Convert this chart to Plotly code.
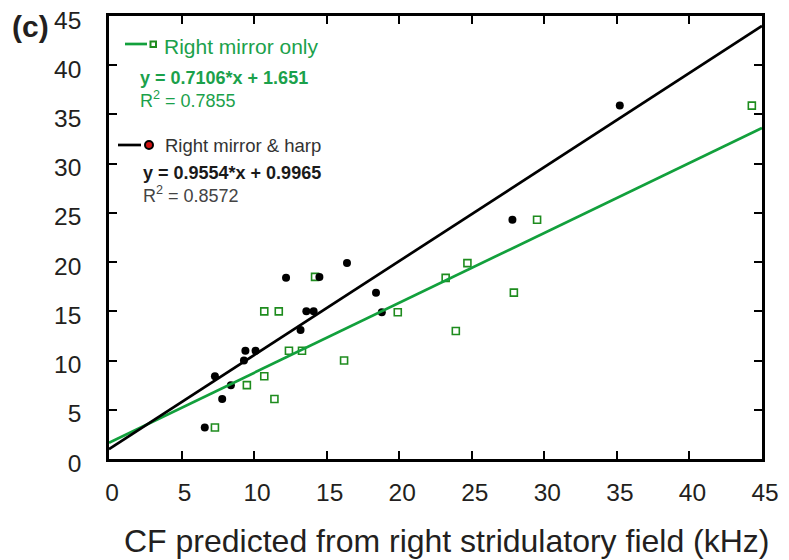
import plotly.graph_objects as go

# ---- data ----
harp_x = [6.6, 7.8, 7.3, 8.4, 9.3, 9.4, 10.1, 12.2, 13.2, 13.6, 14.1, 14.5, 16.4, 18.4, 18.8, 27.8, 35.2]
harp_y = [3.2, 6.1, 8.4, 7.5, 10.0, 11.0, 11.0, 18.4, 13.1, 15.0, 15.0, 18.5, 19.9, 16.9, 14.9, 24.3, 35.9]
mirror_x = [7.3, 9.5, 10.7, 11.4, 10.7, 11.7, 12.4, 13.3, 14.2, 16.2, 19.9, 23.9, 23.2, 24.7, 27.9, 29.5, 44.3]
mirror_y = [3.2, 7.5, 8.4, 6.1, 15.0, 15.0, 11.0, 11.0, 18.5, 10.0, 14.9, 13.0, 18.4, 19.9, 16.9, 24.3, 35.9]

fit_names = ["Right mirror only", "Right mirror & harp"]
fit_slopes = [0.7106, 0.9554]
fit_intercepts = [1.651, 0.9965]
fit_r2 = [0.7855, 0.8572]
fit_x_range = [0, 45]

tick_vals = [0, 5, 10, 15, 20, 25, 30, 35, 40, 45]
x_title = "CF predicted from right stridulatory field (kHz)"

FONT = "Liberation Sans, Arial, sans-serif"
GREEN_LINE = "#12a03c"
GREEN_MARK = "#1e8c1e"
GREEN_TEXT = "#1ba14b"
DARK = "#231f20"

fig = go.Figure()

fig.add_trace(go.Scatter(x=mirror_x, y=mirror_y, mode="markers",
                         marker=dict(symbol="square-open", size=7, color=GREEN_MARK,
                                     line=dict(width=1.6, color=GREEN_MARK)),
                         showlegend=False))
fig.add_trace(go.Scatter(x=harp_x, y=harp_y, mode="markers",
                         marker=dict(symbol="circle", size=8, color="black"),
                         showlegend=False))

line_colors = [GREEN_LINE, "black"]
for s, b, c in zip(fit_slopes, fit_intercepts, line_colors):
    fy = [s * xv + b for xv in fit_x_range]
    fig.add_trace(go.Scatter(x=fit_x_range, y=fy, mode="lines",
                             line=dict(color=c, width=2.7), showlegend=False))

# The page body adds an 8px offset; figure is sized so it fills the 789x560 window.
OFF = 8
FW, FH = 789 - OFF, 560 - OFF
L, R, T, B = 101, 27, 8, 101
W, H = FW - L - R, FH - T - B
PLOT_LEFT, PLOT_BOTTOM = OFF + L, OFF + T + H  # window pixels


def px(x):
    return (x - PLOT_LEFT) / W


def py(y):
    return (PLOT_BOTTOM - y) / H


shapes = [
    dict(type="line", xref="paper", yref="paper", x0=px(125), x1=px(147), y0=py(44), y1=py(44),
         line=dict(color=GREEN_LINE, width=2.7)),
    dict(type="rect", xref="paper", yref="paper", x0=px(150.5), x1=px(156), y0=py(41.5), y1=py(47),
         line=dict(color=GREEN_MARK, width=2), fillcolor="white"),
    dict(type="line", xref="paper", yref="paper", x0=px(118), x1=px(141), y0=py(145), y1=py(145),
         line=dict(color="black", width=2.7)),
    dict(type="circle", xref="paper", yref="paper", x0=px(145), x1=px(153), y0=py(141), y1=py(149),
         line=dict(color="black", width=2), fillcolor="#d01010"),
]

annotations = [
    dict(text="<b>(c)</b>", x=px(10), y=py(26), font=dict(size=30, color=DARK)),
    dict(text=fit_names[0], x=px(162), y=py(47), font=dict(size=21, color=GREEN_TEXT)),
    dict(text="<b>y = %s*x + %s</b>" % (fit_slopes[0], fit_intercepts[0]), x=px(138), y=py(78),
         font=dict(size=18, color=GREEN_TEXT)),
    dict(text="R<sup>2</sup> = %s" % fit_r2[0], x=px(138), y=py(99), font=dict(size=18, color=GREEN_TEXT)),
    dict(text=fit_names[1], x=px(163), y=py(145), font=dict(size=18.5, color="#333333")),
    dict(text="<b>y = %s*x + %s</b>" % (fit_slopes[1], fit_intercepts[1]), x=px(141), y=py(173),
         font=dict(size=18, color="#1a1a1a")),
    dict(text="R<sup>2</sup> = %s" % fit_r2[1], x=px(141), y=py(194), font=dict(size=18, color="#444444")),
]
for a in annotations:
    a.update(xanchor="left")
annotations.append(dict(text=x_title, x=px(447), y=py(541), xanchor="center",
                        font=dict(size=32, color=DARK)))
for a in annotations:
    a.update(xref="paper", yref="paper", yanchor="middle", showarrow=False)

axis_common = dict(
    range=[0, 45], tickvals=tick_vals, showgrid=False, zeroline=False, automargin=False,
    showline=True, linecolor="black", linewidth=2.5, mirror="ticks",
    ticks="inside", ticklen=8, tickwidth=2, tickcolor="black",
    ticklabeloverflow="allow",
    tickfont=dict(family=FONT, size=24.5, color=DARK),
)

fig.update_layout(
    width=FW, height=FH,
    margin=dict(l=L, r=R, t=T, b=B, autoexpand=False),
    paper_bgcolor="white", plot_bgcolor="white",
    font=dict(family=FONT, color=DARK),
    xaxis=dict(**axis_common, ticklabelstandoff=10, ticklabelshift=3),
    yaxis=dict(**axis_common, ticklabelstandoff=20, ticklabelshift=4),
    shapes=shapes, annotations=annotations,
)

fig.write_html("out.html")
